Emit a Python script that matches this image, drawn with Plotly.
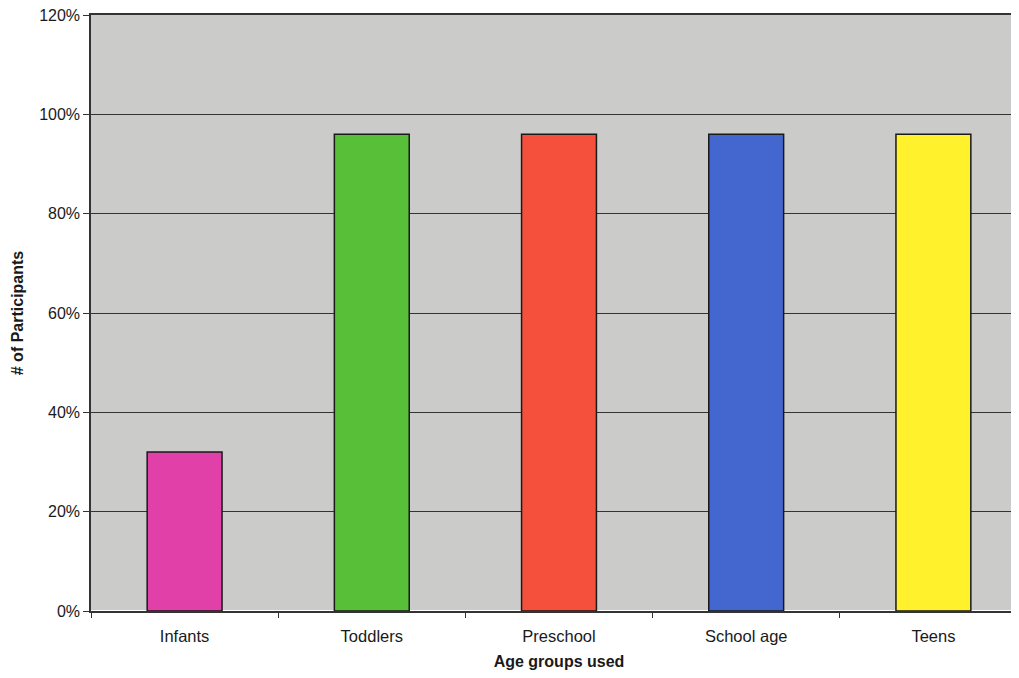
import plotly.graph_objects as go

categories = ["Infants", "Toddlers", "Preschool", "School age", "Teens"]
values = [0.32, 0.96, 0.96, 0.96, 0.96]
colors = ["#e040a8", "#58bf38", "#f4503c", "#4466cf", "#fff22c"]
y_ticks = [0, 0.2, 0.4, 0.6, 0.8, 1.0, 1.2]
y_tick_labels = ["0%", "20%", "40%", "60%", "80%", "100%", "120%"]

fig = go.Figure(go.Bar(
    x=categories, y=values, width=0.4,
    marker=dict(color=colors, line=dict(color="#1a1a1a", width=1.5)),
))

fig.update_layout(
    width=1019, height=662,
    margin=dict(l=83, r=0, t=7, b=59),
    paper_bgcolor="white", plot_bgcolor="#cbcbca",
    font=dict(family="Liberation Sans, Arial, sans-serif", size=16, color="#1a1a1a"),
    showlegend=False,
    xaxis=dict(
        type="category", range=[-0.5, 4.5],
        tickson="boundaries", ticks="outside", ticklen=5, tickcolor="#333",
        showline=True, linecolor="#333", linewidth=1.5, showgrid=False, mirror=True,
        tickfont=dict(size=16.5), ticklabelstandoff=9,
        title=dict(text="<b>Age groups used</b>", font=dict(size=16), standoff=12),
    ),
    yaxis=dict(
        range=[0, 1.2], tickvals=y_ticks, ticktext=y_tick_labels,
        ticks="outside", ticklen=6, tickcolor="#333",
        showline=True, linecolor="#333", linewidth=1.5,
        showgrid=True, gridcolor="#333", gridwidth=1,
        tickfont=dict(size=16), ticklabeloverflow="allow",
        title=dict(text="<b># of Participants</b>", font=dict(size=16), standoff=12),
    ),
)

fig.write_html("out.html")
